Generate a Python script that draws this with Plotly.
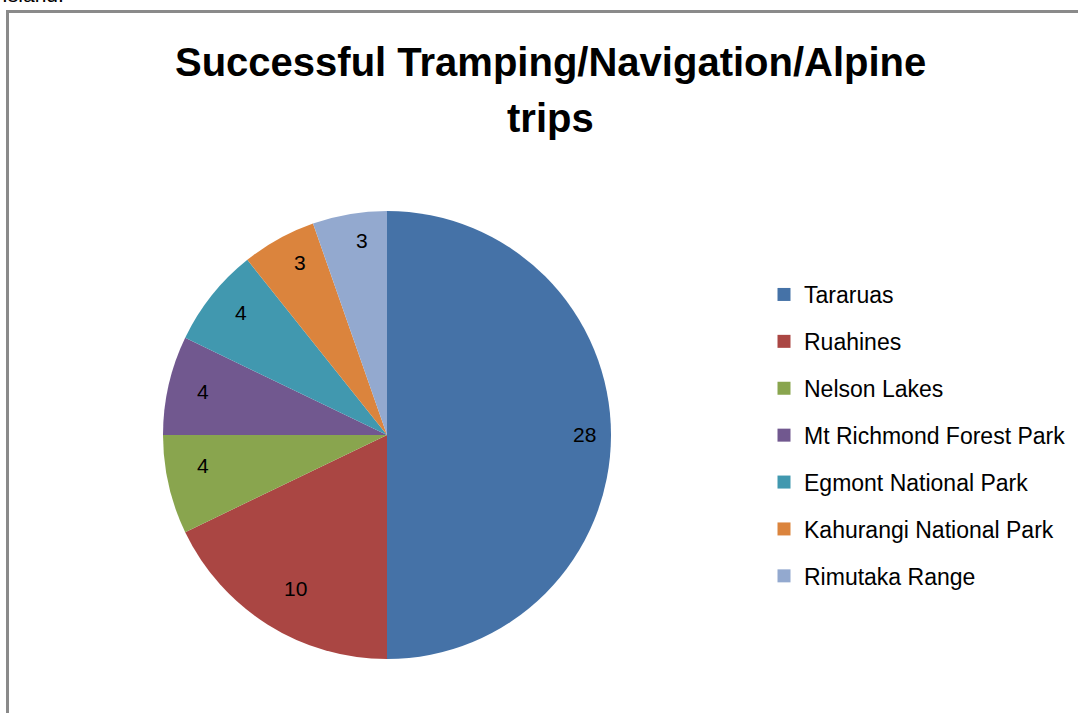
import math
import plotly.graph_objects as go

labels = ["Tararuas", "Ruahines", "Nelson Lakes", "Mt Richmond Forest Park",
          "Egmont National Park", "Kahurangi National Park", "Rimutaka Range"]
trips = [28, 10, 4, 4, 4, 3, 3]
colors = ["#4572A7", "#AA4643", "#89A54E", "#71588F", "#4198AF", "#DB843D", "#93A9CF"]

W, H = 1078, 713
cx, cy, rad = 387, 435, 224  # pie centre / radius in pixels


def px(x):
    return x / W


def py(y):
    return 1 - y / H


fig = go.Figure()
fig.add_trace(go.Pie(
    labels=labels, values=trips,
    marker=dict(colors=colors, line=dict(width=0)),
    sort=False, direction="clockwise", rotation=0,
    textinfo="none", showlegend=False,
    domain=dict(x=[px(cx - rad), px(cx + rad)], y=[py(cy + rad), py(cy - rad)]),
))

# legend entries (scatter so the spacing can be set)
for lab, col in zip(labels, colors):
    fig.add_trace(go.Scatter(
        x=[None], y=[None], mode="markers", name=lab, legendgroup=lab,
        marker=dict(symbol="square", size=13, color=col),
    ))

# data labels along each slice bisector
total = sum(trips)
cum = 0
for v in trips:
    mid = (cum + v / 2) / total * 2 * math.pi
    cum += v
    fig.add_annotation(x=px(cx + 0.88 * rad * math.sin(mid)),
                       y=py(cy - 0.88 * rad * math.cos(mid)),
                       xref="paper", yref="paper", text=str(v), showarrow=False,
                       font=dict(size=21, color="black", family="Liberation Sans"))

fig.add_annotation(x=0, y=py(8), xref="paper", yref="paper", xanchor="left",
                   yanchor="bottom", text="Island.", showarrow=False,
                   font=dict(size=21, color="black", family="Liberation Sans"))

# title, two lines
for txt, yy in [("Successful Tramping/Navigation/Alpine", 62), ("trips", 118)]:
    fig.add_annotation(x=px(550), y=py(yy), xref="paper", yref="paper",
                       xanchor="center", yanchor="middle", text="<b>%s</b>" % txt,
                       showarrow=False,
                       font=dict(size=40, color="black", family="Liberation Sans"))

fig.add_shape(type="rect", xref="paper", yref="paper",
              x0=px(7.5), x1=1.02, y0=-0.02, y1=py(11.5),
              line=dict(color="#8a8a8a", width=3))

fig.update_layout(
    width=W, height=H,
    margin=dict(l=0, r=0, t=0, b=0),
    paper_bgcolor="white", plot_bgcolor="white",
    legend=dict(x=px(764), y=py(273), xanchor="left", yanchor="top",
                tracegroupgap=14, bgcolor="rgba(0,0,0,0)",
                font=dict(size=23, color="black", family="Liberation Sans")),
    xaxis=dict(visible=False), yaxis=dict(visible=False),
)

fig.write_html("out.html", config={"displayModeBar": False},
               post_script="document.body.style.margin='0';")
